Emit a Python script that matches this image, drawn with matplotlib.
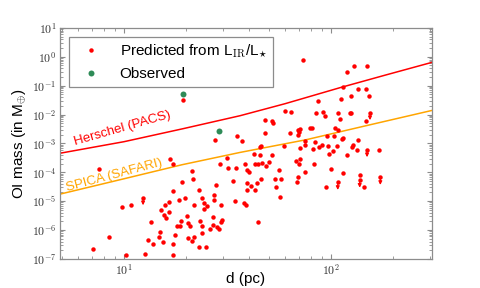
import numpy as np
import matplotlib
matplotlib.use("Agg")
import matplotlib.pyplot as plt
from matplotlib.ticker import FuncFormatter, LogLocator, NullFormatter, FixedLocator

plt.rcParams['font.family'] = ['Liberation Sans', 'DejaVu Sans']
plt.rcParams['mathtext.fontset'] = 'cm'

# Predicted OI masses (distance in pc, mass in Earth masses)
pred_d = [7.06, 7.55, 8.44, 9.75, 10.19, 10.85, 12.67, 13.10, 13.55, 13.81,
          14.81, 14.87, 15.04, 15.48, 15.61, 15.83, 15.90, 16.44, 16.55, 16.68,
          17.25, 17.25, 17.25, 17.25, 17.64, 18.03, 18.44, 18.58, 18.79, 19.06,
          19.28, 19.65, 20.22, 20.38, 20.45, 20.84, 21.31, 21.48, 21.38, 21.86,
          21.78, 22.91, 23.09, 23.22, 23.74, 23.90, 23.90, 24.35, 24.43, 25.18,
          24.98, 25.94, 26.92, 27.01, 27.31, 27.31, 27.73, 27.37, 28.23, 28.76,
          29.32, 29.84, 29.32, 28.99, 31.45, 31.91, 33.51, 34.64, 34.49, 35.27,
          37.04, 38.13, 38.86, 38.55, 39.42, 40.04, 39.42, 39.42, 40.94, 42.61,
          42.80, 42.95, 44.06, 44.26, 44.55, 45.26, 45.91, 45.56, 45.76, 46.42,
          48.53, 48.16, 51.88, 52.46, 48.16, 50.18, 51.88, 53.46, 54.24, 56.27,
          57.15, 56.90, 59.10, 59.75, 63.88, 63.40, 67.77, 70.05, 71.07, 69.50,
          68.76, 69.28, 70.61, 69.82, 69.04, 70.84, 73.00, 74.47, 75.15, 74.89,
          79.43, 80.94, 81.86, 82.77, 83.70, 84.64, 86.26, 87.80, 90.78, 91.48,
          93.55, 94.91, 95.65, 97.05, 97.47, 100.0, 101.9, 103.1, 104.2, 106.6,
          108.1, 108.5, 110.2, 111.4, 113.9, 112.6, 114.7, 114.7, 119.1, 119.9,
          123.1, 125.0, 124.5, 126.7, 128.2, 129.6, 134.0, 134.6, 135.0, 138.1,
          143.9, 147.1, 146.8, 149.7, 153.1, 171.2]
pred_m = [2.24e-7, 1.26e-4, 5.85e-7, 6.40e-6, 1.32e-7, 7.52e-6, 1.50e-7, 4.60e-7, 1.89e-6, 3.34e-7,
          5.85e-7, 8.24e-7, 4.76e-6, 3.92e-7, 3.20e-6, 7.52e-6, 2.67e-6, 4.06e-6, 9.02e-6, 2.95e-4,
          1.98e-4, 2.30e-5, 3.26e-7, 1.39e-7, 6.70e-7, 1.33e-6, 1.06e-5, 1.37e-6, 2.05e-6, 4.59e-5,
          3.10e-2, 1.24e-5, 2.95e-6, 5.40e-7, 1.75e-6, 1.37e-6, 1.07e-4, 5.98e-5, 4.01e-7, 5.85e-7,
          7.52e-6, 2.63e-7, 2.39e-5, 1.98e-6, 8.05e-7, 1.41e-6, 1.31e-5, 8.81e-6, 5.46e-6, 6.93e-6,
          2.49e-7, 1.05e-6, 2.82e-6, 1.49e-6, 1.67e-5, 1.06e-5, 3.61e-5, 1.27e-3, 1.23e-6, 1.11e-6,
          1.94e-6, 2.27e-6, 7.10e-6, 1.98e-4, 3.12e-4, 1.41e-4, 4.90e-5, 1.41e-4, 1.01e-5, 1.85e-3,
          1.21e-3, 8.81e-6, 7.52e-6, 1.87e-4, 1.16e-4, 1.02e-4, 4.35e-5, 2.43e-5, 3.43e-5, 4.40e-4,
          1.90e-4, 2.35e-5, 4.11e-5, 1.94e-6, 1.98e-4, 7.69e-4, 8.32e-4, 4.06e-4, 5.65e-5, 2.14e-4,
          1.69e-4, 6.64e-3, 5.98e-3, 5.09e-3, 2.35e-3, 2.20e-4, 3.84e-4, 5.65e-5, 3.16e-5, 1.20e-4,
          5.98e-5, 1.35e-5, 8.13e-4, 1.33e-2, 1.26e-2, 2.35e-3, 2.52e-4, 1.93e-4, 2.79e-4, 6.64e-5,
          4.71e-5, 2.82e-3, 3.05e-3, 2.48e-3, 2.00e-3, 7.10e-4, 0.796, 1.00e-4, 8.81e-4, 1.21e-3,
          3.31e-3, 3.31e-3, 6.40e-4, 1.98e-4, 1.12e-3, 1.16e-2, 2.95e-2, 7.69e-4, 8.81e-4, 1.26e-2,
          9.12e-3, 3.16e-5, 1.75e-3, 8.13e-4, 4.30e-4, 1.26e-4, 5.46e-4, 1.81e-3, 3.31e-3, 8.32e-4,
          2.82e-3, 1.10e-2, 6.79e-3, 3.46e-2, 9.23e-2, 1.38e-3, 1.54e-3, 9.66e-5, 0.289, 4.06e-4,
          1.10e-2, 1.10e-2, 4.26e-2, 7.5e-4, 8.81e-4, 0.493, 6.05e-4, 7.87e-2, 1.34e-3, 8.04e-5,
          3.16e-5, 7.45e-2, 6.12e-3, 0.493, 4.26e-2, 5.82e-4]

# Predicted values that are upper limits
lim_d = [12.35, 107.8, 137.6, 149.3, 154.3, 173.1]
lim_m = [1.31e-5, 4.45e-5, 5.31e-5, 6.05e-4, 1.16e-2, 6.64e-5]

# Observed
obs_d = [19.28, 28.9]
obs_m = [0.050, 2.69e-3]

# Detection limits
herschel_d = [4.91, 10.0, 19.28, 36.35, 59.96, 110.5, 182.4, 307.6]
herschel_m = [4.58e-4, 1.15e-3, 3.24e-3, 9.12e-3, 0.02377, 0.0853, 0.231, 0.643]
spica_d = [4.91, 10.0, 19.06, 36.35, 75.7, 154.3, 307.6]
spica_m = [1.76e-5, 5.98e-5, 1.83e-4, 4.88e-4, 1.34e-3, 4.42e-3, 0.0139]

# Tick positions
x_ticks = [10, 100]
y_ticks = [1e-7, 1e-6, 1e-5, 1e-4, 1e-3, 1e-2, 1e-1, 1e0, 1e1]

fig = plt.figure(figsize=(4.8, 2.88), dpi=100)
ax = fig.add_axes([0.125, 0.101, 0.775, 0.802])
ax.set_xscale('log')
ax.set_yscale('log')

red = '#ff0000'
green = '#2e8b57'
orange = '#ffa500'

ax.plot(herschel_d, herschel_m, color=red, lw=1.1, zorder=2)
ax.plot(spica_d, spica_m, color=orange, lw=1.1, zorder=2)

ax.plot(pred_d + lim_d, pred_m + lim_m, 'o', color=red, ms=3.2, mew=0,
        label=r'Predicted from L$_{\mathrm{IR}}$/L$_{\star}$', zorder=3)
for d, m in zip(lim_d, lim_m):
    ax.annotate('', xy=(d, m * 10 ** -0.26), xytext=(d, m),
                arrowprops=dict(arrowstyle='-|>', color=red, lw=0.9,
                                mutation_scale=5, shrinkA=0, shrinkB=0),
                zorder=3)
ax.plot(obs_d, obs_m, 'o', color=green, ms=4.3, mew=0, label='Observed', zorder=4)

ax.text(9.8, 3.4e-3, 'Herschel (PACS)', color=red, fontsize=9.5,
        rotation=16, ha='center', va='center')
ax.text(8.95, 8.0e-5, 'SPICA (SAFARI)', color=orange, fontsize=9.5,
        rotation=15, ha='center', va='center')

ax.set_xlim(4.9, 307.6)
ax.set_ylim(1e-7, 10)

fmt = FuncFormatter(lambda v, p: r'$10^{%d}$' % int(round(np.log10(v))))
ax.xaxis.set_major_locator(FixedLocator(x_ticks))
ax.yaxis.set_major_locator(FixedLocator(y_ticks))
ax.xaxis.set_major_formatter(fmt)
ax.yaxis.set_major_formatter(fmt)
ax.xaxis.set_minor_formatter(NullFormatter())
ax.yaxis.set_minor_locator(LogLocator(base=10, subs=np.arange(2, 10), numticks=20))
ax.yaxis.set_minor_formatter(NullFormatter())

spine_col = '#8c8c8c'
for s in ax.spines.values():
    s.set_color(spine_col)
    s.set_linewidth(0.9)
ax.tick_params(which='both', direction='in', top=True, right=True, color=spine_col,
               labelcolor='#333333', labelsize=8.5)
ax.tick_params(which='major', length=3.5, pad=2.5)
ax.tick_params(which='minor', length=2)

ax.set_xlabel('d (pc)', fontsize=11, labelpad=-4)
ax.set_ylabel(r'OI mass (in M$_{\oplus}$)', fontsize=11, labelpad=3)

leg = ax.legend(loc='upper left', fontsize=11, numpoints=1, fancybox=False,
                framealpha=1, borderaxespad=0.6, handletextpad=0.9,
                labelspacing=0.45)
leg.get_frame().set_edgecolor('#8c8c8c')
leg.get_frame().set_linewidth(0.9)

fig.savefig('out.png', dpi=100)
